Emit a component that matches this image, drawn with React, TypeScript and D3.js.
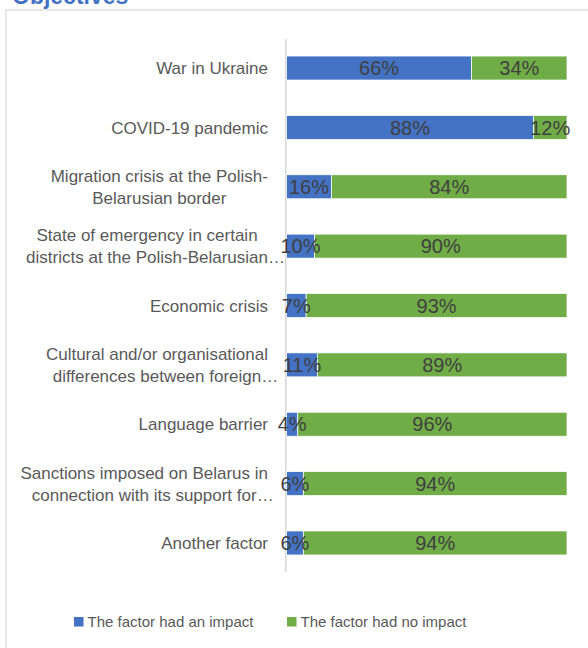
import React from "react";
import * as d3 from "d3";

const categories = [
  "War in Ukraine",
  "COVID-19 pandemic",
  "Migration crisis at the Polish-Belarusian border",
  "State of emergency in certain districts at the Polish-Belarusian border",
  "Economic crisis",
  "Cultural and/or organisational differences between foreign partners",
  "Language barrier",
  "Sanctions imposed on Belarus in connection with its support for Russia",
  "Another factor",
];
const labelLines = [
  ["War in Ukraine"],
  ["COVID-19 pandemic"],
  ["Migration crisis at the Polish-", "Belarusian border"],
  ["State of emergency in certain", "districts at the Polish-Belarusian…"],
  ["Economic crisis"],
  ["Cultural and/or organisational", "differences between foreign…"],
  ["Language barrier"],
  ["Sanctions imposed on Belarus in", "connection with its support for…"],
  ["Another factor"],
];
const hadImpact = [66, 88, 16, 10, 7, 11, 4, 6, 6];
const noImpact = [34, 12, 84, 90, 93, 89, 96, 94, 94];
const seriesNames = ["The factor had an impact", "The factor had no impact"];
const seriesColors = ["#4472C4", "#70AD47"];

const FONT = "'Liberation Sans', Arial, sans-serif";

let ctx: CanvasRenderingContext2D | null = null;
function measure(text: string, size: number) {
  if (!ctx) ctx = document.createElement("canvas").getContext("2d");
  if (!ctx) return text.length * size * 0.5;
  ctx.font = `${size}px ${FONT}`;
  return ctx.measureText(text).width;
}

export default function App() {
  const W = 588;
  const H = 648;
  const x = d3.scaleLinear().domain([0, 100]).range([286.5, 567]);
  const y = d3
    .scaleBand<string>()
    .domain(categories)
    .range([39, 572])
    .paddingInner(0.596)
    .paddingOuter(0.287);
  const bw = y.bandwidth();
  const labelSize = 17;
  const labelRight = 268;
  const lineH = 22;

  return (
    <svg
      width={W}
      height={H}
      style={{ position: "absolute", left: 0, top: 0, background: "#fff" }}
      fontFamily={FONT}
    >
      <rect x={0} y={0} width={W} height={H} fill="#fff" />
      <text x={12} y={4} fontSize={23} fontWeight="bold" fill="#4472C4">
        Objectives
      </text>
      <rect x={6} y={10} width={700} height={800} fill="#fff" stroke="#d9d9d9" strokeWidth={1.2} />

      {/* axis line */}
      <line x1={285.8} x2={285.8} y1={39} y2={572} stroke="#d9d9d9" strokeWidth={1.6} />

      {categories.map((c, i) => {
        const y0 = y(c)!;
        const cy = y0 + bw / 2;
        const a = hadImpact[i];
        const b = noImpact[i];
        const lines = labelLines[i];
        const widthsEx = lines.map((l) => measure(l.replace(/…$/, ""), labelSize));
        const Wm = Math.max(...widthsEx);
        const cx = labelRight - Wm / 2;
        const startY = cy - ((lines.length - 1) * lineH) / 2;
        return (
          <g key={c}>
            <rect x={x(0)} y={y0} width={x(a) - x(0)} height={bw} fill={seriesColors[0]} stroke="#fff" strokeWidth={0.75} />
            <rect x={x(a)} y={y0} width={x(a + b) - x(a)} height={bw} fill={seriesColors[1]} stroke="#fff" strokeWidth={0.75} />
            <text x={(x(0) + x(a)) / 2} y={cy} dy="0.36em" textAnchor="middle" fontSize={20} fill="#404040">
              {a}%
            </text>
            <text x={(x(a) + x(a + b)) / 2} y={cy} dy="0.36em" textAnchor="middle" fontSize={20} fill="#404040">
              {b}%
            </text>
            {lines.map((l, j) => (
              <text
                key={j}
                x={cx - widthsEx[j] / 2}
                y={startY + j * lineH}
                dy="0.36em"
                fontSize={labelSize}
                fill="#595959"
              >
                {l}
              </text>
            ))}
          </g>
        );
      })}

      {/* legend */}
      {seriesNames.map((n, i) => {
        const lx = i === 0 ? 74 : 287;
        return (
          <g key={n}>
            <rect x={lx} y={617} width={9.5} height={9.5} fill={seriesColors[i]} />
            <text x={lx + 13.5} y={621.8} dy="0.36em" fontSize={15} fill="#595959">
              {n}
            </text>
          </g>
        );
      })}
    </svg>
  );
}
